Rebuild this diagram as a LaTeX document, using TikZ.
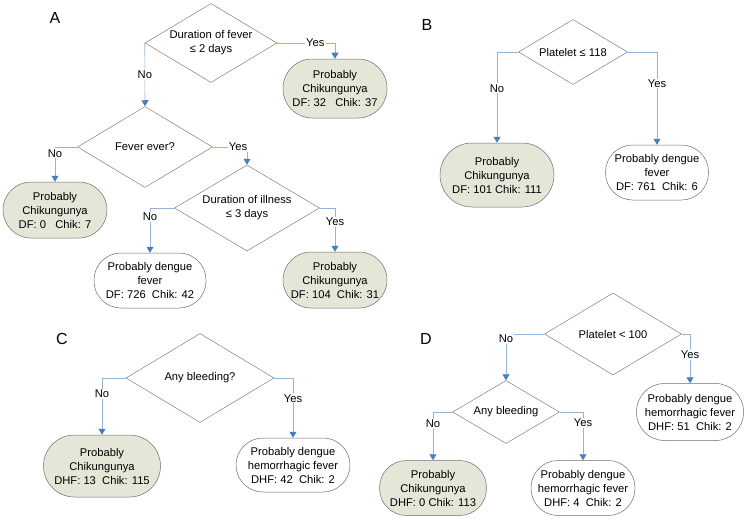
\documentclass[tikz,border=0pt]{standalone}
\usepackage{fontspec}
\setmainfont{Liberation Sans}
\usetikzlibrary{shapes.geometric,arrows.meta}
\definecolor{linec}{RGB}{149,179,215}
\definecolor{arrowc}{RGB}{74,126,187}
\definecolor{diac}{RGB}{128,128,128}
\definecolor{boxc}{RGB}{110,110,110}
\definecolor{fillc}{RGB}{229,229,216}
\tikzset{
  dia/.style={diamond, draw=diac, line width=0.5pt, inner sep=0pt, align=center,
    font=\fontsize{11.2}{14}\selectfont},
  outc/.style={rectangle, draw=boxc, line width=0.5pt, align=center, inner sep=0pt,
    font=\fontsize{11.2}{14}\selectfont},
  ofill/.style={outc, fill=fillc},
  owhite/.style={outc, fill=white},
  lbl/.style={fill=white, inner sep=1pt, font=\fontsize{11.2}{14}\selectfont},
  conn/.style={draw=linec, line width=0.6pt, -{Triangle[width=7pt,length=6pt,color=arrowc]}},
  panel/.style={font=\fontsize{16}{18}\selectfont}
}
\begin{document}
\begin{tikzpicture}[x=1pt,y=-1pt]
\useasboundingbox (0,0) rectangle (751,519);
\fill[white] (0,0) rectangle (751,519);
% panel letters
\node[panel] (pA) at (55,18) {A};
\node[panel] (pB) at (427,25) {B};
\node[panel] (pC) at (62,339) {C};
\node[panel] (pD) at (426,339) {D};
% Panel A
\node[dia, minimum width=132pt, minimum height=79pt, aspect=1.67] (dA1) at (211,43) {Duration of fever\\≤ 2 days};
\node[dia, minimum width=135pt, minimum height=81pt, aspect=1.67] (dA2) at (145,147) {Fever ever?};
\node[dia, minimum width=145pt, minimum height=86pt, aspect=1.69] (dA3) at (247,208) {Duration of illness\\≤ 3 days};
\node[ofill, minimum width=104pt, minimum height=59pt, rounded corners=29pt] (bA1) at (335,88.5) {Probably\\Chikungunya\\DF: 32\ \ \ Chik: 37};
\node[ofill, minimum width=104pt, minimum height=56pt, rounded corners=28pt] (bA2) at (55,210) {Probably\\Chikungunya\\DF: 0\ \ \ Chik: 7};
\node[owhite, minimum width=112pt, minimum height=55pt, rounded corners=27pt] (bA3) at (150,280.5) {Probably dengue\\fever\\DF: 726\ \ Chik: 42};
\node[ofill, minimum width=104pt, minimum height=56pt, rounded corners=28pt] (bA4) at (335,280) {Probably\\Chikungunya\\DF: 104\ \ Chik: 31};
\draw[conn] (dA1.east) -| node[lbl,pos=0.33]{Yes} (bA1.north);
\draw[conn] (dA1.west) -- node[lbl,pos=0.5]{No} (dA2.north);
\draw[conn] (dA2.west) -| node[lbl,pos=0.59]{No} (bA2.north);
\draw[conn] (dA2.east) -| node[lbl,pos=0.37]{Yes} (dA3.north);
\draw[conn] (dA3.west) -| node[lbl,pos=0.6]{No} (bA3.north);
\draw[conn] (dA3.east) -| node[lbl,pos=0.66]{Yes} (bA4.north);
% Panel B
\node[dia, minimum width=109pt, minimum height=65pt, aspect=1.68] (dB) at (573,52) {Platelet ≤ 118};
\node[ofill, minimum width=114pt, minimum height=64pt, rounded corners=32pt] (bB1) at (497,175) {Probably\\Chikungunya\\DF: 101 Chik: 111};
\node[owhite, minimum width=103pt, minimum height=55pt, rounded corners=27pt] (bB2) at (657,172.5) {Probably dengue\\fever\\DF: 761\ \ Chik: 6};
\draw[conn] (dB.west) -| node[lbl,pos=0.7]{No} (bB1.north);
\draw[conn] (dB.east) -| node[lbl,pos=0.67]{Yes} (bB2.north);
% Panel C
\node[dia, minimum width=148pt, minimum height=89pt, aspect=1.66] (dC) at (200,378) {Any bleeding?};
\node[ofill, minimum width=117pt, minimum height=62pt, rounded corners=31pt] (bC1) at (102,466) {Probably\\Chikungunya\\DHF: 13\ \ Chik: 115};
\node[owhite, minimum width=114pt, minimum height=54pt, rounded corners=27pt] (bC2) at (293,465) {Probably dengue\\hemorrhagic fever\\DHF: 42\ \ Chik: 2};
\draw[conn] (dC.west) -| node[lbl,pos=0.64]{No} (bC1.north);
\draw[conn] (dC.east) -| node[lbl,pos=0.67]{Yes} (bC2.north);
% Panel D
\node[dia, minimum width=137pt, minimum height=82pt, aspect=1.67] (dD1) at (613,334) {Platelet < 100};
\node[dia, minimum width=107pt, minimum height=63pt, aspect=1.7] (dD2) at (506,412) {Any bleeding};
\node[owhite, minimum width=107pt, minimum height=57pt, rounded corners=28pt] (bD1) at (690,412) {Probably dengue\\hemorrhagic fever\\DHF: 51\ \ Chik: 2};
\node[ofill, minimum width=107pt, minimum height=55pt, rounded corners=27pt] (bD2) at (433,488) {Probably\\Chikungunya\\DHF: 0 Chik: 113};
\node[owhite, minimum width=104pt, minimum height=55pt, rounded corners=27pt] (bD3) at (583,488) {Probably dengue\\hemorrhagic fever\\DHF: 4\ \ Chik: 2};
\draw[conn] (dD1.west) -| node[lbl,pos=0.55]{No} (dD2.north);
\draw[conn] (dD1.east) -| node[lbl,pos=0.71]{Yes} (bD1.north);
\draw[conn] (dD2.west) -| node[lbl,pos=0.62]{No} (bD2.north);
\draw[conn] (dD2.east) -| node[lbl,pos=0.61]{Yes} (bD3.north);
\end{tikzpicture}
\end{document}
